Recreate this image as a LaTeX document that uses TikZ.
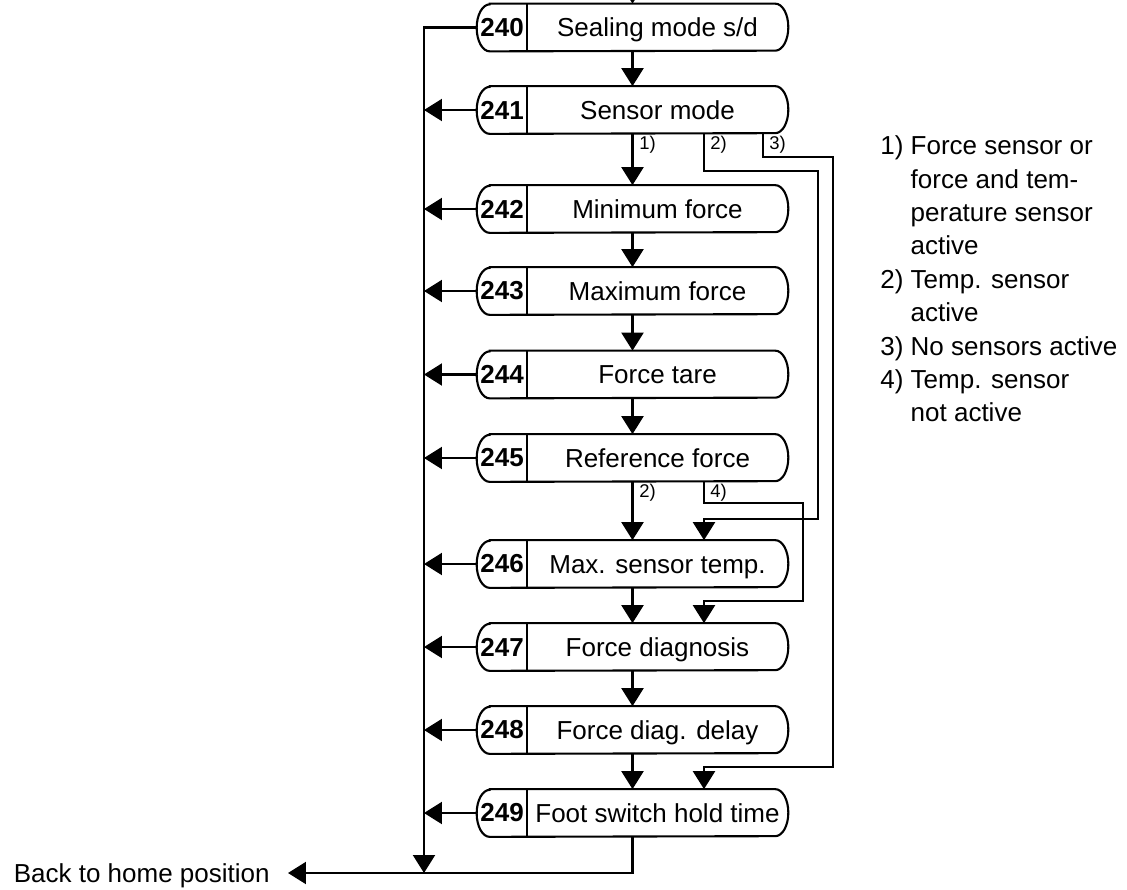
\documentclass[tikz,border=0pt]{standalone}
\usepackage{fontspec}
\setmainfont{Liberation Sans}
\usetikzlibrary{arrows.meta}
\tikzset{
  menubox/.style={
    minimum width=6.22cm,
    minimum height=0.94cm,
    inner sep=0pt
  },
  capsule/.style={line width=1.2pt, x radius=0.26cm, y radius=0.47cm},
  numcell/.style={
    anchor=west,
    inner sep=0pt,
    minimum width=1cm,
    minimum height=0.94cm,
    font=\fontsize{14.8}{17}\selectfont\bfseries
  },
  boxtext/.style={inner sep=0pt, text height=13.3pt, text depth=2.7pt,
    font=\fontsize{14.8}{17}\selectfont},
  tag/.style={anchor=west, inner sep=0pt, font=\fontsize{10.5}{12}\selectfont},
  wire/.style={line width=1.2pt},
  flow/.style={-{Triangle[length=3.6mm,width=4.4mm]}, line width=1.2pt}
}
\begin{document}
\begin{tikzpicture}[x=0.02cm,y=-0.02cm]
  \useasboundingbox (0,0) rectangle (1127,890);
  % menu boxes
  \foreach \n/\y/\t in {240/27.5/{Sealing mode s/d}, 241/110/{Sensor mode},
      242/209/{Minimum force}, 243/291/{Maximum force}, 244/374.5/{Force tare},
      245/458/{Reference force}, 246/564/{Max. sensor temp.},
      247/647/{Force diagnosis}, 248/730/{Force diag. delay},
      249/813/{Foot switch hold time}}{
    \node[menubox] (b\n) at (632.5,\y) {};
    \draw[capsule] ([xshift=0.26cm]b\n.north west) -- ([xshift=-0.26cm]b\n.north east)
      arc[start angle=90, end angle=-90]
      -- ([xshift=0.26cm]b\n.south west) arc[start angle=270, end angle=90] -- cycle;
    \node[numcell] (n\n) at (b\n.west) {\n};
    \draw[wire] (n\n.north east) -- (n\n.south east);
    \node[boxtext] (t\n) at (657.5,\y) {\t};
  }
  \coordinate (entry) at (632.5,-20);
  \coordinate (bus) at (424,873);
  \coordinate (s2) at (704,171);
  \coordinate (s3) at (763,157);
  \coordinate (s4) at (704,503);
  \coordinate (r2) at (818,519);
  \coordinate (r3) at (833,767);
  \coordinate (r4) at (803,601);
  \node[anchor=east, inner xsep=0.36cm, inner ysep=0pt, text height=13.3pt,
    text depth=2.7pt, font=\fontsize{14.8}{17}\selectfont] (home) at (288,873)
    {Back to home position};
  % main chain
  \draw[flow] (entry) -- (b240);
  \foreach \a/\b in {240/241, 241/242, 242/243, 243/244, 244/245,
      245/246, 246/247, 247/248, 248/249}
    \draw[flow] (b\a) -- (b\b);
  % back to home
  \draw[flow] (b240.west) -| (bus);
  \foreach \n in {241,...,249}
    \draw[flow] (b\n.west) -- (b\n.west -| bus);
  \draw[flow] (b249.south) |- (home.east);
  % sensor branches
  \draw[flow] (b241.south -| s2) -- (s2) -| (r2) -- (r2 -| s2) -- (b246.north -| s2);
  \draw[flow] (b241.south -| s3) -- (s3) -| (r3) -- (r3 -| s2) -- (b249.north -| s2);
  \draw[flow] (b245.south -| s4) -- (s4) -| (r4) -- (r4 -| s4) -- (b247.north -| s4);
  \node[tag] (l1) at (639,145) {1)};
  \node[tag] (l2) at (710,145) {2)};
  \node[tag] (l3) at (769,145) {3)};
  \node[tag] (l5) at (639,493) {2)};
  \node[tag] (l4) at (710,493) {4)};
  % legend
  \node[anchor=north west, inner sep=0pt, font=\fontsize{14.8}{19}\selectfont] (legend)
    at (880,131) {\begin{tabular}{@{}l@{\ }l@{}}
      1) & Force sensor or\\
         & force and tem-\\
         & perature sensor\\
         & active\\
      2) & Temp. sensor\\
         & active\\
      3) & No sensors active\\
      4) & Temp. sensor\\
         & not active
    \end{tabular}};
\end{tikzpicture}
\end{document}
